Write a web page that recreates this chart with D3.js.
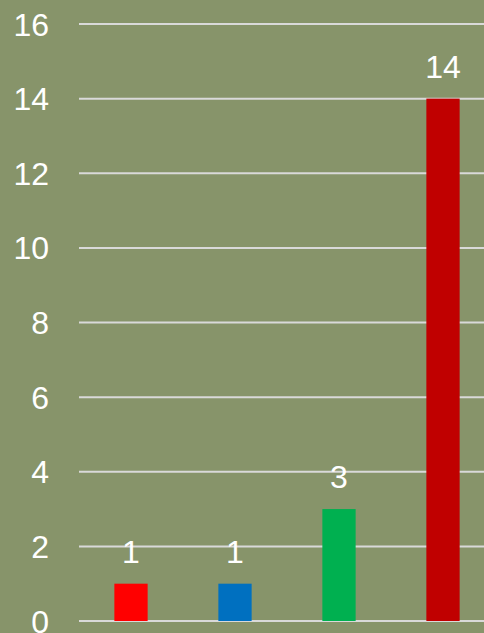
<!DOCTYPE html>
<meta charset="utf-8">
<script src="https://d3js.org/d3.v7.min.js"></script>
<style>
  body { margin: 0; }
  svg { display: block; background: #87946a; }
</style>
<svg id="chart" width="484" height="633"></svg>
<script>
    // data
    var categories = ["A", "B", "C", "D"]
    var values = [1, 1, 3, 14]
    var barColors = ["#ff0000", "#0070c0", "#00b050", "#c00000"]
    var yTicks = [0, 2, 4, 6, 8, 10, 12, 14, 16]

    var svg = d3.select("#chart"),
        width = +svg.attr("width"),
        height = +svg.attr("height");

    // plot area runs past the right edge, like the original
    var x = d3.scaleBand()
        .domain(categories)
        .range([79, 495])
        .paddingInner(0.68)
        .paddingOuter(0.34)

    var y = d3.scaleLinear()
        .domain([0, 16])
        .range([621, 24])

    // gridlines
    svg.append("g")
      .selectAll("line")
      .data(yTicks)
      .enter()
      .append("line")
        .attr("x1", 79)
        .attr("x2", width)
        .attr("y1", function(d){ return y(d) })
        .attr("y2", function(d){ return y(d) })
        .attr("stroke", "#d9d9d9")
        .attr("stroke-width", 2)

    // y labels
    svg.append("g")
      .selectAll("text")
      .data(yTicks)
      .enter()
      .append("text")
        .attr("x", 49)
        .attr("y", function(d){ return y(d) })
        .attr("dy", "0.36em")
        .attr("text-anchor", "end")
        .style("font-family", "'Liberation Sans', Arial, sans-serif")
        .style("font-size", "32px")
        .style("fill", "white")
        .text(function(d){ return d })

    // bars
    svg.append("g")
      .selectAll("rect")
      .data(values)
      .enter()
      .append("rect")
        .attr("x", function(d, i){ return x(categories[i]) })
        .attr("width", x.bandwidth())
        .attr("y", function(d){ return y(d) })
        .attr("height", function(d){ return y(0) - y(d) })
        .style("fill", function(d, i){ return barColors[i] })

    // value labels
    svg.append("g")
      .selectAll("text")
      .data(values)
      .enter()
      .append("text")
        .attr("x", function(d, i){ return x(categories[i]) + x.bandwidth() / 2 })
        .attr("y", function(d){ return y(d) - 21 })
        .attr("text-anchor", "middle")
        .style("font-family", "'Liberation Sans', Arial, sans-serif")
        .style("font-size", "32px")
        .style("fill", "white")
        .text(function(d){ return d })
</script>
